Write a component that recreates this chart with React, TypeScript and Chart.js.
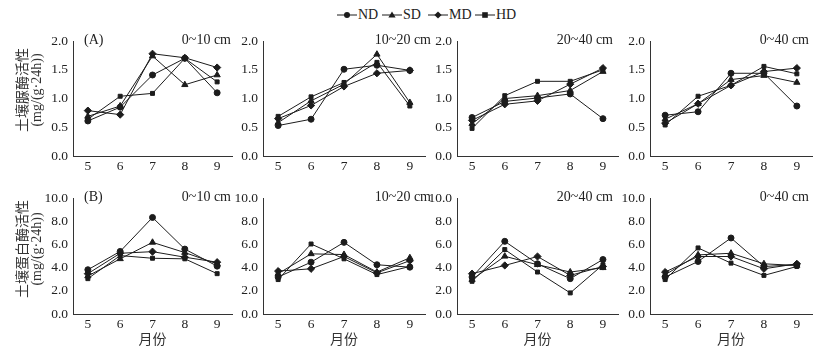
import React, { useEffect, useRef } from "react";
import { Chart, registerables } from "chart.js";

Chart.register(...registerables);

// ---------- data ----------
const months = [5, 6, 7, 8, 9];
const seriesNames = ["ND", "SD", "MD", "HD"];
const depths = ["0~10 cm", "10~20 cm", "20~40 cm", "0~40 cm"];
const ureaseTicks = [0, 0.5, 1.0, 1.5, 2.0];
const proteaseTicks = [0, 2, 4, 6, 8, 10];

// 土壤脲酶活性 (A), series order: ND, SD, MD, HD
const urease0_10 = [
  [0.61, 0.85, 1.41, 1.70, 1.10],
  [0.69, 0.87, 1.74, 1.24, 1.41],
  [0.79, 0.72, 1.78, 1.71, 1.54],
  [0.64, 1.04, 1.09, 1.70, 1.29],
];
const urease10_20 = [
  [0.53, 0.64, 1.51, 1.58, 1.49],
  [0.58, 0.96, 1.25, 1.77, 0.93],
  [0.65, 0.88, 1.21, 1.44, 1.49],
  [0.69, 1.03, 1.28, 1.63, 0.87],
];
const urease20_40 = [
  [0.67, 0.95, 1.01, 1.08, 0.65],
  [0.56, 1.00, 1.05, 1.14, 1.47],
  [0.62, 0.90, 0.96, 1.25, 1.53],
  [0.48, 1.05, 1.30, 1.30, 1.50],
];
const urease0_40 = [
  [0.71, 0.77, 1.44, 1.44, 0.87],
  [0.64, 0.91, 1.33, 1.40, 1.28],
  [0.57, 0.91, 1.23, 1.47, 1.53],
  [0.54, 1.04, 1.23, 1.56, 1.43],
];

// 土壤蛋白酶活性 (B)
const protease0_10 = [
  [3.82, 5.40, 8.33, 5.60, 4.13],
  [3.28, 4.76, 6.18, 5.30, 4.33],
  [3.48, 5.24, 5.38, 4.90, 4.47],
  [3.05, 5.04, 4.81, 4.76, 3.48],
];
const protease10_20 = [
  [3.19, 4.47, 6.18, 4.25, 4.04],
  [3.48, 5.19, 5.13, 3.62, 4.85],
  [3.70, 3.90, 4.96, 3.55, 4.60],
  [2.97, 6.04, 4.76, 3.40, 4.10],
];
const protease20_40 = [
  [3.19, 6.27, 4.33, 3.05, 4.70],
  [2.97, 4.98, 4.25, 3.62, 3.99],
  [3.48, 4.19, 4.96, 3.33, 4.10],
  [2.82, 5.56, 3.62, 1.82, 4.25],
];
const protease0_40 = [
  [3.19, 4.53, 6.56, 4.10, 4.25],
  [3.39, 5.10, 5.24, 4.33, 4.19],
  [3.62, 4.96, 4.96, 3.90, 4.33],
  [2.97, 5.70, 4.39, 3.33, 4.10],
];

// ---------- styles ----------
const pointStyles = ["circle", "triangle", "rectRot", "rect"];
const pointRadii = [3, 3.6, 3.6, 2.8];
const lineColor = "#1c1c1c";
const textColor = "#222";
const serif = '"Liberation Serif", "DejaVu Serif", serif';
const cjk = '"Noto Sans CJK SC", "Noto Sans", sans-serif';

const cols = [
  { L: 73, R: 232, titleRight: 231 },
  { L: 263, R: 425, titleRight: 431 },
  { L: 457, R: 618, titleRight: 613 },
  { L: 650, R: 812, titleRight: 809 },
];
const rows = [
  { T: 40, B: 156 },
  { T: 197, B: 314 },
];

type PanelProps = {
  L: number;
  T: number;
  R: number;
  B: number;
  values: number[][];
  yMax: number;
  yTicks: number[];
};

function Panel({ L, T, R, B, values, yMax, yTicks }: PanelProps) {
  const ref = useRef<HTMLCanvasElement>(null);
  const padL = 45,
    padT = 12,
    padR = 8,
    padB = 22;
  const w = R - L + padL + padR;
  const h = B - T + padT + padB;

  useEffect(() => {
    const chart = new Chart(ref.current as HTMLCanvasElement, {
      type: "line",
      data: {
        datasets: values.map((vals, i) => ({
          label: seriesNames[i],
          data: months.map((m, j) => ({ x: m, y: vals[j] })),
          borderColor: lineColor,
          backgroundColor: lineColor,
          borderWidth: 1,
          pointStyle: pointStyles[i] as any,
          pointRadius: pointRadii[i],
          pointBorderWidth: 1,
          pointBorderColor: lineColor,
          pointBackgroundColor: lineColor,
          tension: 0,
          fill: false,
        })),
      },
      options: {
        responsive: false,
        animation: false,
        devicePixelRatio: 1,
        layout: { padding: { top: padT, right: padR, left: 0, bottom: 0 } },
        plugins: { legend: { display: false }, tooltip: { enabled: false } },
        scales: {
          x: {
            type: "linear",
            min: 4.54,
            max: 9.46,
            afterBuildTicks: (ax: any) => {
              ax.ticks = months.map((v) => ({ value: v }));
            },
            afterFit: (ax: any) => {
              ax.height = padB;
            },
            grid: { display: false, drawTicks: false },
            border: { display: true, color: "#333", width: 1 },
            ticks: {
              font: { family: serif, size: 13.5 },
              color: textColor,
              padding: 2,
              autoSkip: false,
              maxRotation: 0,
              callback: (v: any) => String(v),
            },
          },
          y: {
            type: "linear",
            min: 0,
            max: yMax,
            afterBuildTicks: (ax: any) => {
              ax.ticks = yTicks.map((v) => ({ value: v }));
            },
            afterFit: (ax: any) => {
              ax.width = padL;
            },
            grid: { display: false, drawTicks: false },
            border: { display: true, color: "#333", width: 1 },
            ticks: {
              font: { family: serif, size: 13.5 },
              color: textColor,
              padding: 5,
              callback: (v: any) => Number(v).toFixed(1),
            },
          },
        },
      },
    });
    return () => chart.destroy();
  }, []);

  return (
    <canvas
      ref={ref}
      width={w}
      height={h}
      style={{ position: "absolute", left: L - padL, top: T - padT, width: w, height: h }}
    />
  );
}

function LegendMarker({ i }: { i: number }) {
  const c = lineColor;
  let marker: React.ReactNode = null;
  if (i === 0) marker = <circle cx={10} cy={6} r={3} fill={c} />;
  if (i === 1) marker = <polygon points="10,2.4 13.6,8.6 6.4,8.6" fill={c} />;
  if (i === 2) marker = <polygon points="10,2.4 13.6,6 10,9.6 6.4,6" fill={c} />;
  if (i === 3) marker = <rect x={7.2} y={3.2} width={5.6} height={5.6} fill={c} />;
  return (
    <svg width={20} height={12} style={{ display: "block" }}>
      <line x1={0} y1={6} x2={20} y2={6} stroke={c} strokeWidth={1} />
      {marker}
    </svg>
  );
}

const legendX = [337, 382, 428, 475];
const ureasePanels = [urease0_10, urease10_20, urease20_40, urease0_40];
const proteasePanels = [protease0_10, protease10_20, protease20_40, protease0_40];

export default function App() {
  return (
    <div
      style={{
        position: "fixed",
        left: 0,
        top: 0,
        width: 824,
        height: 351,
        background: "#fff",
        overflow: "hidden",
      }}
    >
      {/* legend */}
      {seriesNames.map((n, i) => (
        <div
          key={n}
          style={{
            position: "absolute",
            left: legendX[i],
            top: 7,
            display: "flex",
            alignItems: "center",
            height: 16,
            fontFamily: serif,
            fontSize: 14,
            color: textColor,
            whiteSpace: "nowrap",
          }}
        >
          <LegendMarker i={i} />
          <span style={{ marginLeft: 1 }}>{n}</span>
        </div>
      ))}

      {/* panels */}
      {cols.map((c, ci) => (
        <Panel
          key={"u" + ci}
          L={c.L}
          R={c.R}
          T={rows[0].T}
          B={rows[0].B}
          values={ureasePanels[ci]}
          yMax={2}
          yTicks={ureaseTicks}
        />
      ))}
      {cols.map((c, ci) => (
        <Panel
          key={"p" + ci}
          L={c.L}
          R={c.R}
          T={rows[1].T}
          B={rows[1].B}
          values={proteasePanels[ci]}
          yMax={10}
          yTicks={proteaseTicks}
        />
      ))}

      {/* panel titles */}
      {rows.map((r, ri) =>
        cols.map((c, ci) => (
          <div
            key={"t" + ri + ci}
            style={{
              position: "absolute",
              right: 824 - c.titleRight,
              top: r.T - 9,
              fontFamily: serif,
              fontSize: 14,
              color: textColor,
              whiteSpace: "nowrap",
              lineHeight: "18px",
            }}
          >
            {depths[ci]}
          </div>
        ))
      )}
      <div
        style={{ position: "absolute", left: 84, top: rows[0].T - 9, fontFamily: serif, fontSize: 14, color: textColor, lineHeight: "18px" }}
      >
        (A)
      </div>
      <div
        style={{ position: "absolute", left: 84, top: rows[1].T - 9, fontFamily: serif, fontSize: 14, color: textColor, lineHeight: "18px" }}
      >
        (B)
      </div>

      {/* y-axis titles */}
      {[
        { cy: 90, t: "土壤脲酶活性" },
        { cy: 249, t: "土壤蛋白酶活性" },
      ].map((a, i) => (
        <div
          key={"y" + i}
          style={{
            position: "absolute",
            left: 28.5,
            top: a.cy,
            width: 130,
            transform: "translate(-50%, -50%) rotate(-90deg)",
            textAlign: "center",
            color: "#333",
            lineHeight: "15px",
          }}
        >
          <div style={{ fontFamily: cjk, fontSize: 14 }}>{a.t}</div>
          <div style={{ fontFamily: serif, fontSize: 14 }}>(mg/(g·24h))</div>
        </div>
      ))}

      {/* x-axis titles */}
      {cols.map((c, ci) => (
        <div
          key={"x" + ci}
          style={{
            position: "absolute",
            left: (c.L + c.R) / 2,
            top: 338,
            transform: "translate(-50%, -50%)",
            fontFamily: cjk,
            fontSize: 14,
            color: "#333",
            whiteSpace: "nowrap",
          }}
        >
          月份
        </div>
      ))}
    </div>
  );
}
